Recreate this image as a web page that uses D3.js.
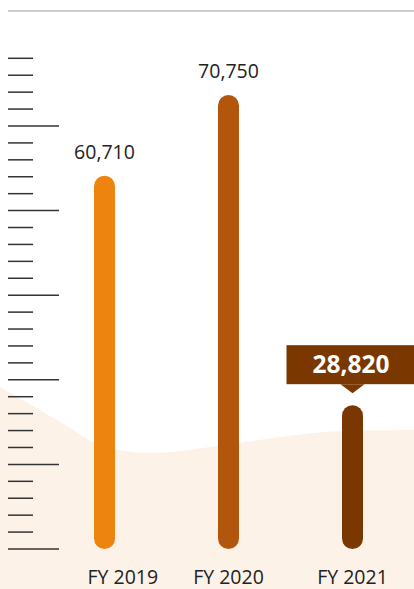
<!DOCTYPE html>
<html><head><meta charset="utf-8">
<script src="https://cdn.jsdelivr.net/npm/d3@7"></script>
<style>html,body{margin:0;padding:0;background:#fff;}svg{display:block;}</style>
</head><body>
<svg id="chart" width="414" height="589"></svg>
<script>
const categories = ["FY 2019", "FY 2020", "FY 2021"];
const values = [60710, 70750, 28820];
const barColors = ["#ee8410", "#b2560e", "#7a3800"];
const highlightIndex = 2;
const tickCount = 30;

const W = 414, H = 589;
const svg = d3.select("#chart");
const baseY = 549;
const FONT = "'Open Sans', 'Noto Sans', sans-serif";

// background wave
const wave = [[0,387],[33,406],[67,426],[93,442],[120,450],[150,453],[218,446],[280,437],[342,431],[414,430]];
const area = d3.area().x(d=>d[0]).y0(H).y1(d=>d[1]).curve(d3.curveMonotoneX);
svg.append("path").attr("d", area(wave)).attr("fill", "#fdf2e8");

// top rule
svg.append("line").attr("x1", 8).attr("x2", W).attr("y1", 11).attr("y2", 11)
  .attr("stroke", "#bdbdbd").attr("stroke-width", 1.5);

// decorative ticks
const tScale = d3.scaleLinear().domain([0, tickCount - 1]).range([baseY, 58.3]);
svg.append("g").selectAll("line").data(d3.range(tickCount)).join("line")
  .attr("x1", 8).attr("x2", i => i % 5 === 0 ? 59 : 33)
  .attr("y1", i => tScale(i)).attr("y2", i => tScale(i))
  .attr("stroke", "#333").attr("stroke-width", 1.5);

const x = d3.scalePoint().domain(categories).range([104.5, 352.5]);
const y = d3.scalePow().exponent(1.28).domain([0, d3.max(values)]).range([baseY, 95]);
const bw = 21;

svg.append("g").selectAll("rect").data(values).join("rect")
  .attr("x", (d,i) => x(categories[i]) - bw/2)
  .attr("width", bw)
  .attr("y", d => y(d))
  .attr("height", d => baseY - y(d))
  .attr("rx", bw/2).attr("ry", bw/2)
  .attr("fill", (d,i) => barColors[i]);

const fmt = d3.format(",");
// value labels
values.forEach((v, i) => {
  const cx = x(categories[i]);
  if (i === highlightIndex) {
    const top = y(v);
    const boxBottom = top - 21;
    const g = svg.append("g");
    g.append("rect").attr("x", cx - 66).attr("y", boxBottom - 39).attr("width", 130).attr("height", 39)
      .attr("fill", barColors[i]);
    g.append("path").attr("d", `M${cx-12},${boxBottom}L${cx+12},${boxBottom}L${cx},${boxBottom+9}Z`)
      .attr("fill", barColors[i]);
    g.append("text").attr("x", cx - 1.5).attr("y", boxBottom - 11)
      .attr("text-anchor", "middle").attr("font-family", FONT)
      .attr("font-weight", "bold").attr("font-size", 24.5).attr("fill", "#fff")
      .text(fmt(v));
  } else {
    svg.append("text").attr("x", cx).attr("y", y(v) - 17)
      .attr("text-anchor", "middle").attr("font-family", FONT)
      .attr("font-size", 19.5).attr("fill", "#222").text(fmt(v));
  }
});

// category labels
svg.append("g").selectAll("text").data(categories).join("text")
  .attr("x", (d,i) => i === 0 ? x(d) - 17 : x(d))
  .attr("y", 584)
  .attr("text-anchor", (d,i) => i === 0 ? "start" : "middle")
  .attr("font-family", FONT).attr("font-size", 19.5).attr("fill", "#222")
  .text(d => d);
</script>
</body></html>
